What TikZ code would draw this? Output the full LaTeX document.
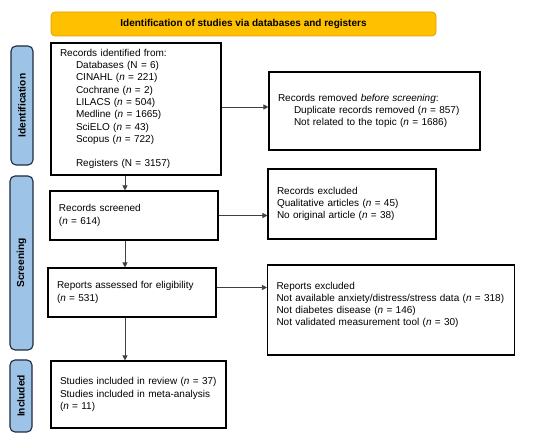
\documentclass[tikz,border=0pt]{standalone}
\usepackage{fontspec}
\setmainfont{Liberation Sans}
\usetikzlibrary{arrows.meta}
\definecolor{bannerfill}{HTML}{FFC000}
\definecolor{bannerline}{HTML}{D9A300}
\definecolor{phasefill}{HTML}{9DC3E6}
\definecolor{phaseline}{HTML}{1E2A40}

\begin{document}
\begin{tikzpicture}[x=1pt,y=-1pt,
    box/.style={draw=black,line width=1.1pt,inner xsep=9pt,inner ysep=0pt,align=left,font=\fontsize{10}{12.3}\selectfont},
    phasebox/.style={draw=phaseline,fill=phasefill,rounded corners=5pt,line width=1.1pt,rotate=90,inner sep=0pt,font=\fontsize{10.2}{12}\selectfont\bfseries},
    arr/.style={draw=black!75,line width=0.7pt,-{Triangle[length=5pt,width=5pt]}}]

    \useasboundingbox (0,0) rectangle (550,438);

    % banner and phase labels
    \node[draw=bannerline,fill=bannerfill,rounded corners=4pt,line width=0.8pt,minimum width=385pt,minimum height=24pt,font=\fontsize{10}{12}\selectfont\bfseries] (banner) at (243.5,24) {Identification of studies via databases and registers};
    \node[phasebox,minimum width=119pt,minimum height=22pt] (idlab) at (22,105.5) {\textbf{Identification}};
    \node[phasebox,minimum width=174pt,minimum height=23pt] (scrlab) at (21.5,263) {\textbf{Screening}};
    \node[phasebox,minimum width=72pt,minimum height=22pt] (inclab) at (21,396) {\textbf{Included}};

    % left column
    \node[box,minimum width=170pt,minimum height=132pt,text width=152pt] (ident) at (136,109) {Records identified from:\\
        \hspace*{16pt}Databases (N = 6)\\
        \hspace*{16pt}CINAHL (\textit{n} = 221)\\
        \hspace*{16pt}Cochrane (\textit{n} = 2)\\
        \hspace*{16pt}LILACS (\textit{n} = 504)\\
        \hspace*{16pt}Medline (\textit{n} = 1665)\\
        \hspace*{16pt}SciELO (\textit{n} = 43)\\
        \hspace*{16pt}Scopus (\textit{n} = 722)\\[12.3pt]
        \hspace*{16pt}Registers (N = 3157)};
    \node[box,minimum width=168pt,minimum height=49pt,text width=150pt] (screened) at (134,215.5) {Records screened\\(\textit{n} = 614)};
    \node[box,minimum width=168pt,minimum height=49pt,text width=150pt] (assessed) at (132,292.5) {Reports assessed for eligibility\\(\textit{n} = 531)};
    \node[box,minimum width=175pt,minimum height=67pt,text width=157pt] (incl) at (138.5,394.5) {Studies included in review (\textit{n} = 37)\\Studies included in meta-analysis\\(\textit{n} = 11)};

    % right column
    \node[box,minimum width=211pt,minimum height=78pt,text width=193pt] (dup) at (374.5,111) {Records removed \textit{before screening}:\\
        \hspace*{16pt}Duplicate records removed (\textit{n} = 857)\\
        \hspace*{16pt}Not related to the topic (\textit{n} = 1686)};
    \node[box,minimum width=168pt,minimum height=70pt,text width=150pt] (excl) at (352,204) {Records excluded\\Qualitative articles (\textit{n} = 45)\\No original article (\textit{n} = 38)};
    \node[box,minimum width=246pt,minimum height=90pt,text width=229pt] (rexcl) at (391,310) {Reports excluded\\Not available anxiety/distress/stress data (\textit{n} = 318)\\Not diabetes disease (\textit{n} = 146)\\Not validated measurement tool (\textit{n} = 30)\\\mbox{}};

    % connectors
    \coordinate (spine) at (125,0);
    \draw[arr] (ident.south -| spine) -- (screened.north -| spine);
    \draw[arr] (screened.south -| spine) -- (assessed.north -| spine);
    \draw[arr] (assessed.south -| spine) -- (incl.north -| spine);
    \draw[arr] ([yshift=2pt]ident.east) -- ([yshift=2pt]ident.east -| dup.west);
    \draw[arr] (screened.east) -- (screened.east -| excl.west);
    \draw[arr] ([yshift=5pt]assessed.east) -- ([yshift=5pt]assessed.east -| rexcl.west);

\end{tikzpicture}
\end{document}
